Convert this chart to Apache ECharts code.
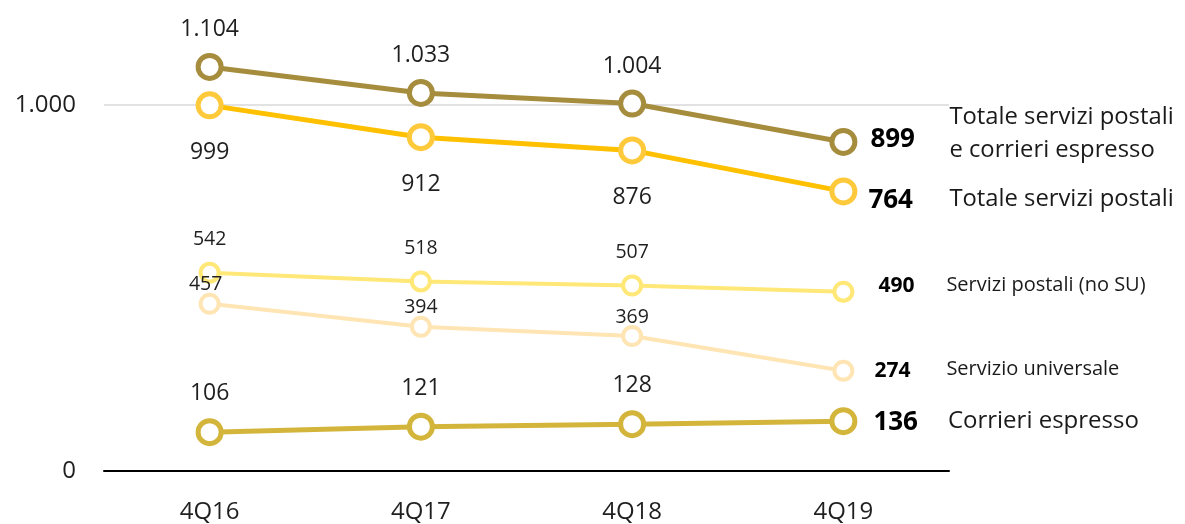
<!DOCTYPE html>
<html>
<head>
<meta charset="utf-8">
<script src="https://cdn.jsdelivr.net/npm/echarts@6/dist/echarts.min.js"></script>
<style>
  html, body { margin: 0; padding: 0; background: #fff; }
  #chart { width: 1185px; height: 524px; }
</style>
</head>
<body>
<div id="chart"></div>
<script>
// Quarterly volumes (millions of items), 4Q16–4Q19
const categories = ['4Q16', '4Q17', '4Q18', '4Q19'];
const totaleServiziCorrieri = [1104, 1033, 1004, 899];
const totaleServiziPostali = [999, 912, 876, 764];
const serviziPostaliNoSU = [542, 518, 507, 490];
const servizioUniversale = [457, 394, 369, 274];
const corrieriEspresso = [106, 121, 128, 136];
const yTicks = [0, 1000];

const FONT = '"Open Sans", "Noto Sans", sans-serif';

// Italian thousands separator: 1104 -> "1.104"
function fmt(v) {
  return String(v).replace(/\B(?=(\d{3})+(?!\d))/g, '.');
}

function makeSeries(cfg) {
  const last = cfg.values.length - 1;
  const nudges = cfg.labelNudge || {};
  const data = cfg.values.map(function (v, i) {
    if (i === last) {
      // last quarter: bold value to the right of the marker
      return {
        value: v,
        label: {
          show: true,
          position: 'right',
          distance: cfg.endValueDistance,
          offset: cfg.endValueOffset || [0, 0],
          fontFamily: FONT,
          fontWeight: 'bold',
          fontSize: cfg.endValueSize,
          color: '#000'
        }
      };
    }
    if (nudges[i]) {
      return { value: v, label: { offset: nudges[i] } };
    }
    return v;
  });
  return {
    name: cfg.name,
    type: 'line',
    data: data,
    clip: false,
    z: cfg.z,
    symbol: 'circle',
    symbolSize: cfg.symbolSize,
    lineStyle: { color: cfg.color, width: cfg.lineWidth },
    itemStyle: { color: '#fff', borderColor: cfg.ringColor || cfg.color, borderWidth: cfg.ringWidth },
    label: {
      show: true,
      position: cfg.labelPos,
      distance: cfg.labelDistance,
      offset: cfg.labelOffset || [0, 0],
      fontFamily: FONT,
      fontSize: cfg.labelSize,
      color: '#1f1f1f',
      formatter: function (p) { return fmt(p.value); }
    },
    endLabel: {
      show: true,
      formatter: cfg.endName,
      distance: cfg.nameDistance,
      offset: cfg.nameOffset || [0, 0],
      fontFamily: FONT,
      fontSize: cfg.nameSize,
      lineHeight: cfg.nameLineHeight,
      color: '#1a1a1a',
      align: 'left'
    },
    emphasis: { disabled: true },
    animation: false
  };
}

const series = [
  makeSeries({
    name: 'Totale servizi postali e corrieri espresso',
    endName: 'Totale servizi postali\ne corrieri espresso',
    values: totaleServiziCorrieri, color: '#A68D3D', z: 6,
    symbolSize: 23, lineWidth: 5, ringWidth: 5,
    labelPos: 'top', labelDistance: 12, labelSize: 23,
    endValueDistance: 13, endValueOffset: [0, -2], endValueSize: 26,
    nameDistance: 106, nameOffset: [0, -8], nameSize: 23.8, nameLineHeight: 33
  }),
  makeSeries({
    name: 'Totale servizi postali',
    endName: 'Totale servizi postali',
    values: totaleServiziPostali, color: '#FFC000', ringColor: '#FFC93C', z: 5,
    symbolSize: 23, lineWidth: 5, ringWidth: 5,
    labelPos: 'bottom', labelDistance: 22, labelSize: 23,
    endValueDistance: 11, endValueOffset: [0, 9], endValueSize: 26,
    nameDistance: 106, nameOffset: [0, 8], nameSize: 23.8
  }),
  makeSeries({
    name: 'Servizi postali (no SU)',
    endName: 'Servizi postali (no SU)',
    values: serviziPostaliNoSU, color: '#FFE877', z: 3,
    symbolSize: 18, lineWidth: 4, ringWidth: 4,
    labelPos: 'top', labelDistance: 12, labelSize: 19.5,
    endValueDistance: 24, endValueOffset: [0, -5.5], endValueSize: 21,
    nameDistance: 103, nameOffset: [0, -6], nameSize: 20
  }),
  makeSeries({
    name: 'Servizio universale',
    endName: 'Servizio universale',
    values: servizioUniversale, color: '#FFE5B4', z: 4,
    symbolSize: 18, lineWidth: 4, ringWidth: 4,
    labelPos: 'top', labelDistance: 0, labelOffset: [0, 2], labelSize: 19.5,
    labelNudge: { 0: [-4, 2] },
    endValueDistance: 20, endValueOffset: [0, 0], endValueSize: 21,
    nameDistance: 103, nameOffset: [0, -1], nameSize: 20
  }),
  makeSeries({
    name: 'Corrieri espresso',
    endName: 'Corrieri espresso',
    values: corrieriEspresso, color: '#D4B53B', z: 2,
    symbolSize: 23, lineWidth: 5, ringWidth: 5,
    labelPos: 'top', labelDistance: 13, labelSize: 23,
    endValueDistance: 16, endValueOffset: [0, 1], endValueSize: 26,
    nameDistance: 104.5, nameOffset: [0, 0], nameSize: 24
  })
];

const chart = echarts.init(document.getElementById('chart'), null, { renderer: 'canvas' });
chart.setOption({
  backgroundColor: '#fff',
  animation: false,
  textStyle: { fontFamily: FONT },
  grid: { left: 104, right: 236, top: 105, bottom: 49, containLabel: false },
  xAxis: {
    type: 'category',
    data: categories,
    boundaryGap: true,
    axisLine: { lineStyle: { color: '#000', width: 2 } },
    axisTick: { show: false },
    axisLabel: { fontFamily: FONT, fontSize: 24, color: '#1f1f1f', margin: 29 },
    splitLine: { show: false }
  },
  yAxis: {
    type: 'value',
    min: yTicks[0],
    max: yTicks[yTicks.length - 1],
    interval: yTicks[1] - yTicks[0],
    axisLine: { show: false },
    axisTick: { show: false },
    axisLabel: {
      fontFamily: FONT, fontSize: 24, color: '#1f1f1f', margin: 28,
      formatter: function (v) { return fmt(v); }
    },
    splitLine: { show: true, lineStyle: { color: '#D9D9D9', width: 1.5 } }
  },
  series: series
});
</script>
</body>
</html>
